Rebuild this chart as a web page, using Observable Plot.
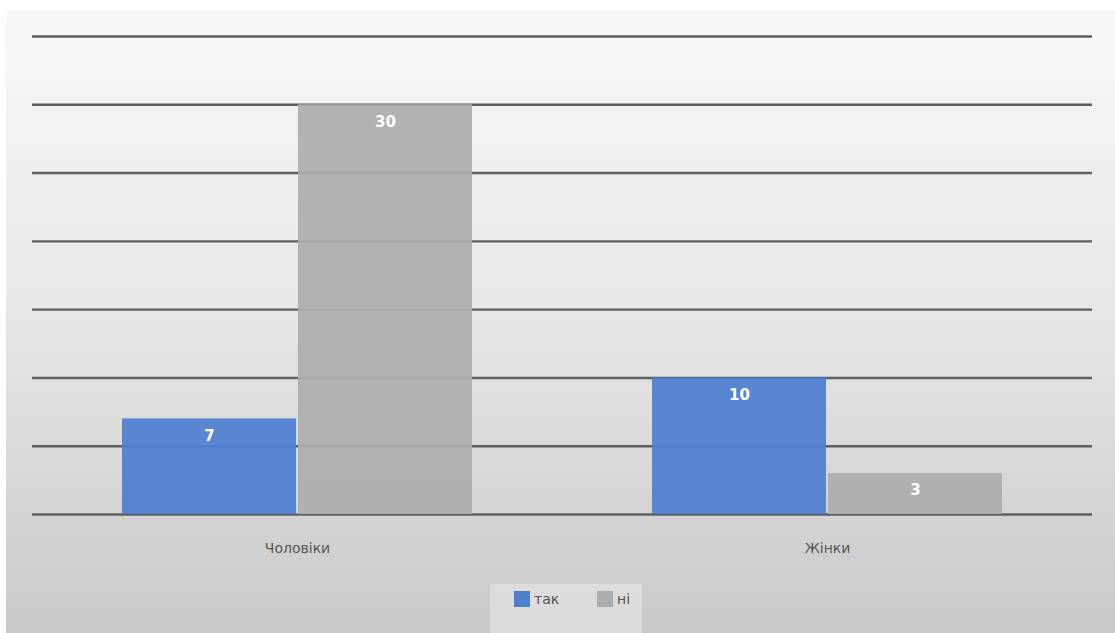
<!DOCTYPE html>
<html>
<head>
<meta charset="utf-8">
<script src="https://cdn.jsdelivr.net/npm/d3@7"></script>
<script src="https://cdn.jsdelivr.net/npm/@observablehq/plot@0.6"></script>
<style>
  html, body { margin: 0; padding: 0; background: #fff; }
  #frame {
    position: absolute; left: 6px; top: 10px; width: 1109px; height: 623px;
    background: linear-gradient(to bottom, #f9f9f9 0%, #e6e6e6 50%, #c9c9c9 100%);
    overflow: hidden;
  }
  #legend {
    position: absolute; left: 484px; top: 574px; width: 152px; height: 60px;
    background: rgba(235,235,235,0.55);
    font-family: "DejaVu Sans", sans-serif; font-size: 14px; color: #555;
  }
  .item { position: absolute; top: 7px; display: flex; align-items: center; }
  .sw { width: 16px; height: 16px; margin-right: 4px; }
</style>
</head>
<body>
<div id="frame">
  <div id="chart"></div>
  <div id="legend"></div>
</div>
<script>
// Survey answers by group
const groups = ["Чоловіки", "Жінки"];
const answers = ["так", "ні"];
const yesValues = [7, 10];
const noValues = [30, 3];
const colors = ["#4f7fd0", "#adadad"];
const gridTicks = [0, 5, 10, 15, 20, 25, 30, 35];

const rows = groups.flatMap((g, i) => [
  {group: g, answer: answers[0], value: yesValues[i]},
  {group: g, answer: answers[1], value: noValues[i]}
]);

const chart = Plot.plot({
  width: 1109,
  height: 560,
  marginLeft: 26,
  marginRight: 23,
  marginTop: 26,
  marginBottom: 56,
  style: {background: "transparent", fontFamily: "DejaVu Sans, sans-serif"},
  fx: {domain: groups, padding: 0, label: null, tickSize: 0, tickPadding: 29},
  x: {domain: answers, paddingInner: 0.0113, paddingOuter: 0.503, axis: null},
  y: {domain: [0, 35], axis: null},
  color: {domain: answers, range: colors},
  marks: [
    Plot.ruleY(gridTicks, {stroke: "#5f5f5f", strokeWidth: 2.4}),
    Plot.barY(rows, {fx: "group", x: "answer", y: "value", fill: "answer", fillOpacity: 0.93}),
    Plot.text(rows, {
      fx: "group", x: "answer", y: "value", text: d => String(d.value),
      dy: 17, fill: "white", fontWeight: "bold", fontSize: 15
    })
  ]
});
const fxAxis = chart.querySelector('g[aria-label="fx-axis tick label"]') || chart.querySelector('g[aria-label="fx-axis"]');
if (fxAxis) { fxAxis.setAttribute("font-size", "14"); fxAxis.setAttribute("fill", "#555"); }
document.getElementById("chart").append(chart);

// Legend
const legend = document.getElementById("legend");
const offsets = [24, 107];
answers.forEach((a, i) => {
  const item = document.createElement("div");
  item.className = "item";
  item.style.left = offsets[i] + "px";
  const sw = document.createElement("div");
  sw.className = "sw";
  sw.style.background = colors[i];
  const label = document.createElement("span");
  label.textContent = a;
  item.append(sw, label);
  legend.append(item);
});
</script>
</body>
</html>
